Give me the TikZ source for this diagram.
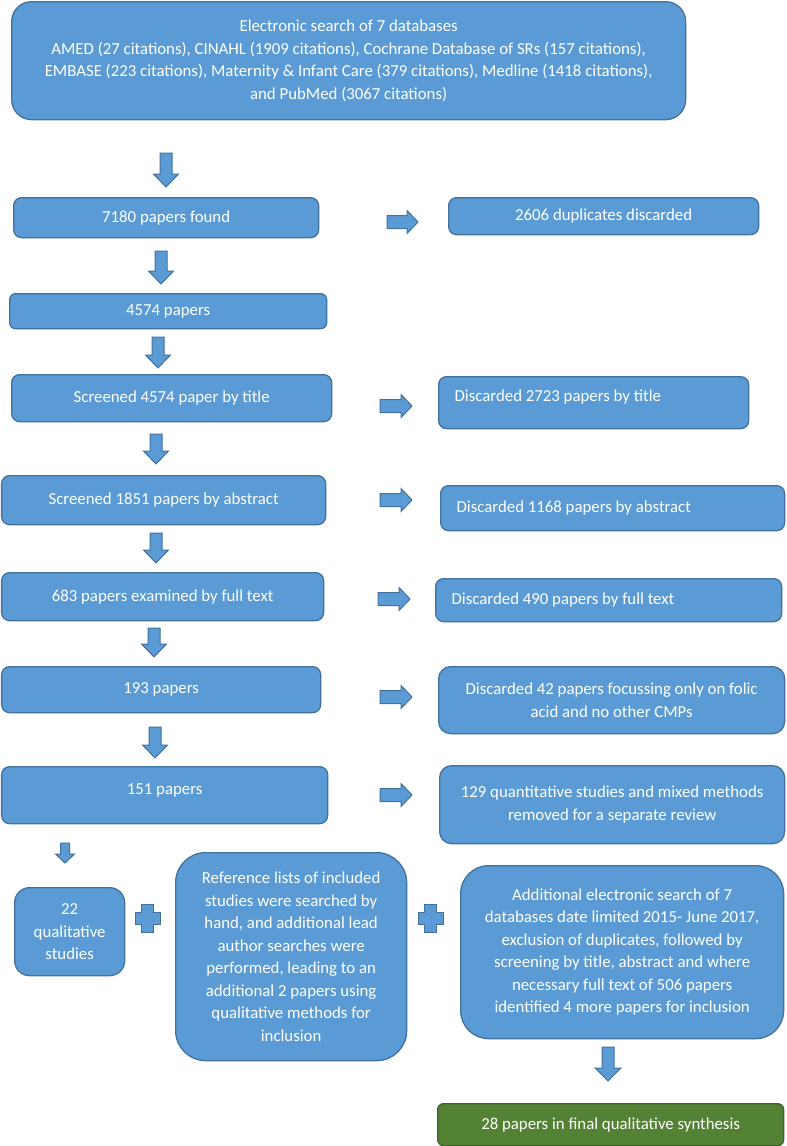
\documentclass[tikz,border=0pt]{standalone}
\usepackage{fontspec}
\setmainfont{Carlito}
\definecolor{bfill}{HTML}{5B9BD5}
\definecolor{bline}{HTML}{41719C}
\definecolor{gfill}{HTML}{548235}
\definecolor{gline}{HTML}{3D6126}
\tikzset{
  fbox/.style={draw=bline, fill=bfill, line width=1.3pt, text=white, inner sep=0pt,
    align=center, anchor=north west, font=\fontsize{16.8}{22.5}\selectfont},
  lbox/.style={fbox, align=flush left},
  gbox/.style={fbox, draw=gline, fill=gfill},
  blk/.style={draw=bline, fill=bfill, line width=1pt, line join=miter},
}
% down block arrow: cx, ytop, ybottom, shaft half, head half, head length
\newcommand\DnBlk[6]{%
  \draw[blk] ({#1-#4},#2) -- ({#1+#4},#2) -- ({#1+#4},{#3-#6}) -- ({#1+#5},{#3-#6})
    -- (#1,#3) -- ({#1-#5},{#3-#6}) -- ({#1-#4},{#3-#6}) -- cycle;}
% right block arrow: xleft, xright, cy
\newcommand\RtBlk[3]{%
  \draw[blk] (#1,{#3-6.5}) -- ({#2-11},{#3-6.5}) -- ({#2-11},{#3-11.5}) -- (#2,#3)
    -- ({#2-11},{#3+11.5}) -- ({#2-11},{#3+6.5}) -- (#1,{#3+6.5}) -- cycle;}
% plus: cx, cy
\newcommand\PlusBlk[2]{%
  \draw[blk] ({#1-6},{#2-14}) -- ({#1+6},{#2-14}) -- ({#1+6},{#2-6}) -- ({#1+12.5},{#2-6})
    -- ({#1+12.5},{#2+6}) -- ({#1+6},{#2+6}) -- ({#1+6},{#2+14}) -- ({#1-6},{#2+14})
    -- ({#1-6},{#2+6}) -- ({#1-12.5},{#2+6}) -- ({#1-12.5},{#2-6}) -- ({#1-6},{#2-6}) -- cycle;}
\begin{document}
\begin{tikzpicture}[x=1pt, y=-1pt]
\useasboundingbox[fill=white] (0,0) rectangle (787,1146);

\node[fbox, rounded corners=20, minimum width=674, minimum height=118] (top) at (11,1)
  {Electronic search of 7 databases\\
   AMED (27 citations), CINAHL (1909 citations), Cochrane Database of SRs (157 citations),\\
   EMBASE (223 citations), Maternity \& Infant Care (379 citations), Medline (1418 citations),\\
   and PubMed (3067 citations)};

\node[fbox, rounded corners=8, minimum width=305, minimum height=40] (n7180) at (13,197) {7180 papers found};
\node[fbox, rounded corners=8, minimum width=310, minimum height=37] (dup) at (448,197) {2606 duplicates discarded};
\node[fbox, rounded corners=6, minimum width=317, minimum height=35] (n4574) at (9,293) {4574 papers};
\node[fbox, rounded corners=8, minimum width=320, minimum height=47] (title) at (11,374) {Screened 4574 paper by title};
\node[lbox, rounded corners=8, minimum width=310, minimum height=52, text width=278, text depth=14pt] (dtitle) at (438,376) {Discarded 2723 papers by title};
\node[fbox, rounded corners=8, minimum width=324, minimum height=49] (abs) at (1,475) {Screened 1851 papers by abstract};
\node[lbox, rounded corners=8, minimum width=344, minimum height=45, text width=312] (dabs) at (440,485) {Discarded 1168 papers by abstract};
\node[fbox, rounded corners=8, minimum width=322, minimum height=48] (full) at (1,572) {683 papers examined by full text};
\node[lbox, rounded corners=8, minimum width=346, minimum height=43, text width=314] (dfull) at (435,578) {Discarded 490 papers by full text};
\node[fbox, rounded corners=8, minimum width=319, minimum height=46] (p193) at (1,666) {193 papers};
\node[fbox, rounded corners=12, minimum width=346, minimum height=67] (d42) at (438,666) {Discarded 42 papers focussing only on folic\\acid and no other CMPs};
\node[fbox, rounded corners=8, minimum width=326, minimum height=57, text depth=13pt] (p151) at (1,766) {151 papers};
\node[fbox, rounded corners=12, minimum width=345, minimum height=78] (q129) at (439,765) {129 quantitative studies and mixed methods\\removed for a separate review};
\node[fbox, rounded corners=15, minimum width=110, minimum height=88] (q22) at (14,887) {22\\qualitative\\studies};
\node[fbox, rounded corners=30, minimum width=231, minimum height=208] (ref) at (175,852)
  {Reference lists of included\\studies were searched by\\hand, and additional lead\\author searches were\\performed, leading to an\\additional 2 papers using\\qualitative methods for\\inclusion};
\node[fbox, rounded corners=28, minimum width=323, minimum height=173] (add) at (460,865)
  {Additional electronic search of 7\\databases date limited 2015- June 2017,\\exclusion of duplicates, followed by\\screening by title, abstract and where\\necessary full text of 506 papers\\identified 4 more papers for inclusion};
\node[gbox, rounded corners=6, minimum width=346, minimum height=42] (final) at (437,1103) {28 papers in final qualitative synthesis};

% down arrows
\DnBlk{166}{153}{187}{6}{12.5}{13}
\DnBlk{161}{251}{284}{6}{12.5}{13}
\DnBlk{158}{337}{368}{6}{12.5}{13}
\DnBlk{156}{434}{464}{6}{12.5}{13}
\DnBlk{156}{533}{563}{6}{12.5}{13}
\DnBlk{154}{628}{657}{6}{12.5}{13}
\DnBlk{155}{727}{758}{6}{12.5}{13}
\DnBlk{65}{843}{863}{4.5}{9.5}{9}
\DnBlk{608}{1047}{1081}{6}{13}{13}

% right arrows
\RtBlk{387}{418}{222}
\RtBlk{380}{412}{406}
\RtBlk{380}{412}{500}
\RtBlk{378}{410}{599}
\RtBlk{380}{412}{697}
\RtBlk{380}{412}{795}

% plus signs
\PlusBlk{147.5}{918}
\PlusBlk{430.5}{918}
\end{tikzpicture}
\end{document}
